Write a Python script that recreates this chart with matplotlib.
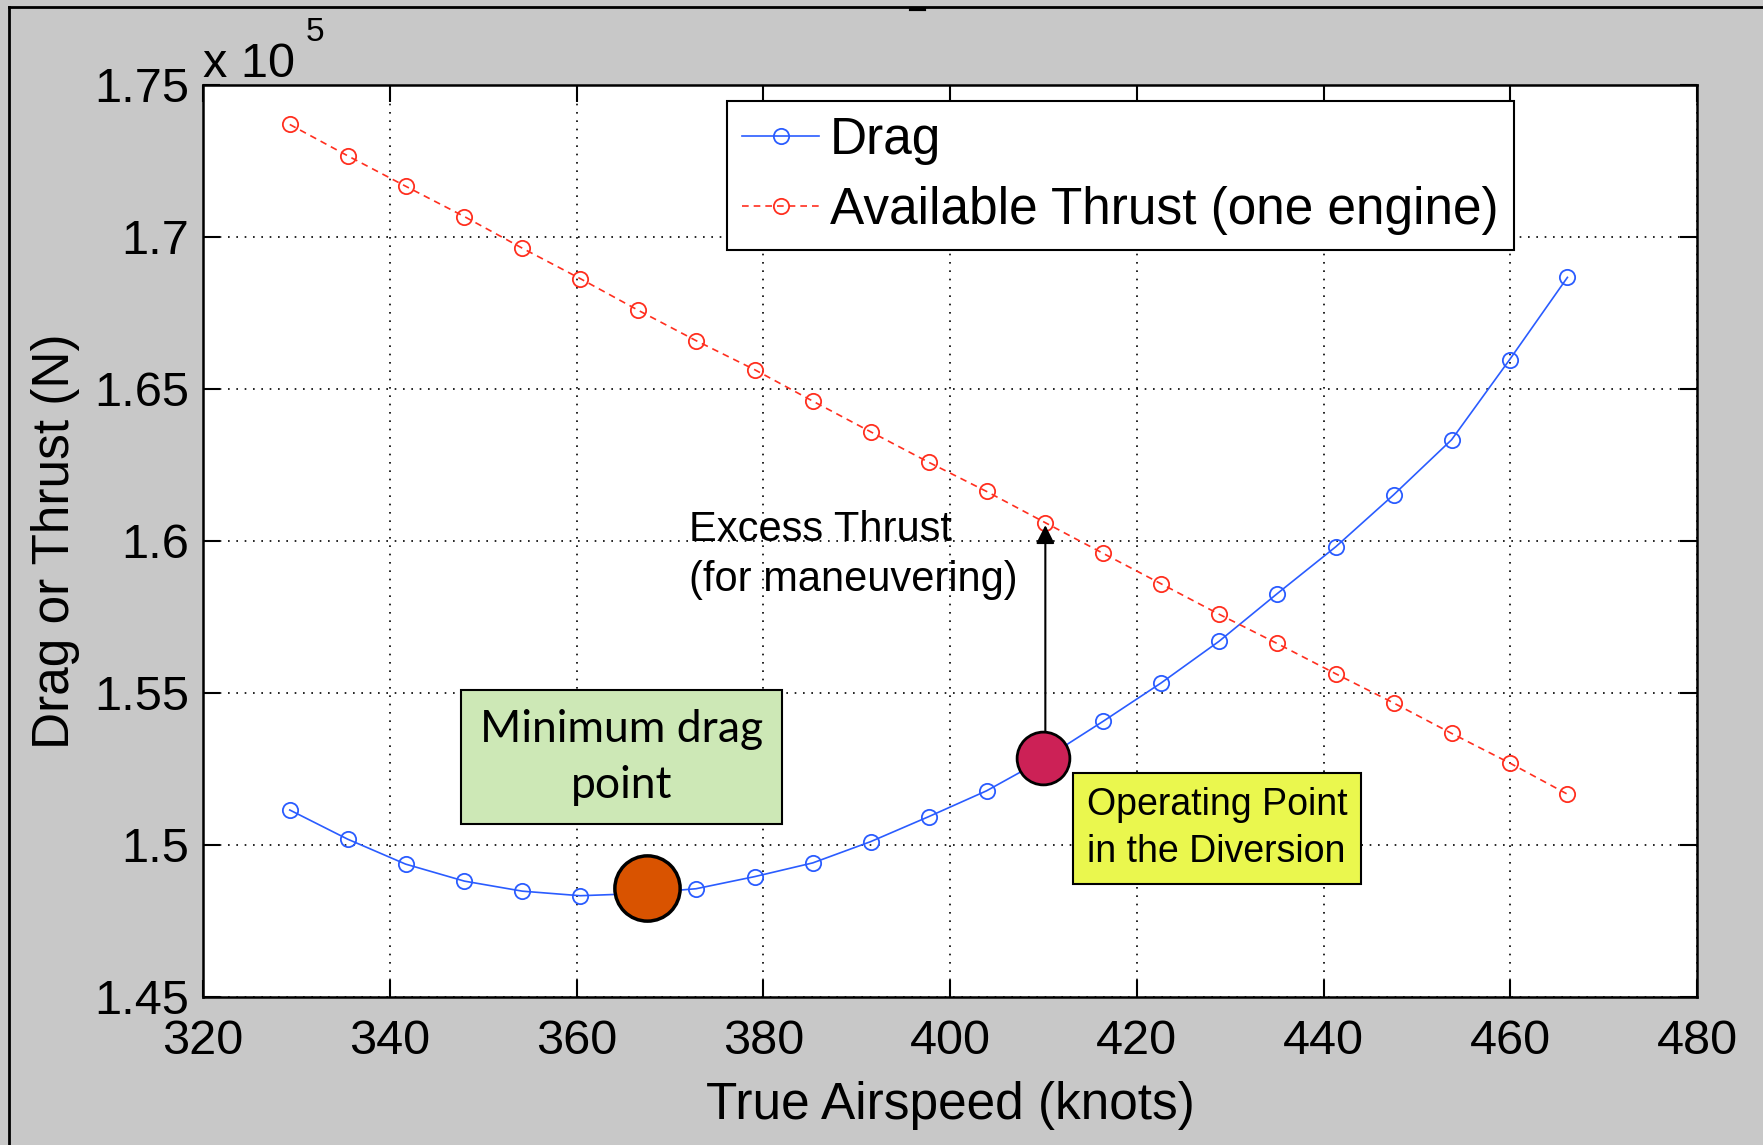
import matplotlib.pyplot as plt
from matplotlib.lines import Line2D

# true airspeed (knots)
speed = [329.3, 335.5, 341.7, 348.0, 354.2, 360.4, 366.6, 372.8, 379.1, 385.3,
         391.5, 397.7, 403.9, 410.2, 416.4, 422.6, 428.8, 435.0, 441.3, 447.5,
         453.7, 459.9, 466.1]
# forces in units of 1e5 N
drag = [1.5115, 1.5019, 1.4937, 1.4881, 1.4848, 1.4833, 1.4840, 1.4856, 1.4896, 1.4941,
        1.5011, 1.5093, 1.5178, 1.5285, 1.5407, 1.5533, 1.5670, 1.5826, 1.5981, 1.6152,
        1.6333, 1.6596, 1.6867]
thrust = [1.7370, 1.7267, 1.7167, 1.7067, 1.6963, 1.6863, 1.6759, 1.6659, 1.6563, 1.6460,
          1.6359, 1.6259, 1.6163, 1.6060, 1.5959, 1.5859, 1.5759, 1.5663, 1.5563, 1.5467,
          1.5367, 1.5270, 1.5167]

min_drag_pt = (367.6, 1.4860)
operating_pt = (409.9, 1.5285)
excess_top = 1.6052
excess_bottom = 1.5367

xticks = [320, 340, 360, 380, 400, 420, 440, 460, 480]
yticks = [1.45, 1.5, 1.55, 1.6, 1.65, 1.7, 1.75]
ytick_labels = ["1.45", "1.5", "1.55", "1.6", "1.65", "1.7", "1.75"]

plt.rcParams["font.family"] = ["Liberation Sans", "DejaVu Sans"]

fig = plt.figure(figsize=(17.63, 11.45), dpi=100, facecolor="#c8c8c8")
ax = fig.add_axes([0.1151, 0.1293, 0.8476, 0.7965])

ax.plot(speed, drag, "-o", color="#2a5cff", lw=1.2, ms=11, mfc="none", mew=1.3,
        label="Drag", zorder=3)
ax.plot(speed, thrust, "--o", color="#ff2f1f", lw=1.2, ms=11, mfc="none", mew=1.3,
        dashes=(4, 3), label="Available Thrust (one engine)", zorder=3)

ax.plot(*min_drag_pt, "o", ms=47, mfc="#d95300", mec="black", mew=2.5, zorder=5)
ax.plot(*operating_pt, "o", ms=38, mfc="#cc2156", mec="black", mew=2.0, zorder=5)

ax.annotate("", xy=(operating_pt[0] + 0.3, excess_top),
            xytext=(operating_pt[0] + 0.3, excess_bottom),
            arrowprops=dict(arrowstyle="-|>", color="black", lw=1.5,
                            mutation_scale=28, shrinkA=0, shrinkB=0), zorder=4)
ax.text(372.0, 1.5954, "Excess Thrust\n(for maneuvering)", fontsize=30,
        ha="left", va="center", linespacing=1.35, zorder=6)

ax.text(364.8, 1.5288, "Minimum drag\npoint", fontsize=32, family=["Lato", "DejaVu Sans"],
        ha="center", va="center", linespacing=1.45, zorder=6,
        bbox=dict(boxstyle="square,pad=0.42", fc="#cde8b6", ec="black", lw=1.5))
ax.text(428.6, 1.5054, "Operating Point\nin the Diversion", fontsize=27,
        ha="center", va="center", multialignment="left", linespacing=1.4, zorder=6,
        bbox=dict(boxstyle="square,pad=0.36", fc="#eaf74e", ec="black", lw=1.5))

ax.set_xlim(320, 480)
ax.set_ylim(1.45, 1.75)
ax.set_xticks(xticks)
ax.set_yticks(yticks)
ax.set_yticklabels(ytick_labels)
ax.grid(True, color="black", linestyle=(0, (1, 4)), lw=1.2)
ax.tick_params(direction="in", length=12, width=1.5, labelsize=35, top=True, right=True)
ax.tick_params(axis="x", pad=16)
ax.tick_params(axis="y", pad=10)
for s in ax.spines.values():
    s.set_linewidth(1.8)

ax.set_xlabel("True Airspeed (knots)", fontsize=37, labelpad=12)
ax.set_ylabel("Drag or Thrust (N)", fontsize=37, labelpad=10)

fig.text(0.1151, 0.9325, "x 10", fontsize=35, ha="left", va="baseline")
fig.text(0.1735, 0.9640, "5", fontsize=24, ha="left", va="baseline")

leg = ax.legend(loc="upper left", bbox_to_anchor=(0.3507, 0.9824), fontsize=37,
                numpoints=1, handlelength=1.5, handletextpad=0.2, labelspacing=0.4,
                borderpad=0.3, borderaxespad=0, fancybox=False, framealpha=1,
                edgecolor="black")
leg.get_frame().set_linewidth(1.5)

# figure frame remnants
fig.add_artist(Line2D([0.005, 0.005], [0, 0.994], color="black", lw=2))
fig.add_artist(Line2D([0.005, 1], [0.994, 0.994], color="black", lw=2))
fig.add_artist(Line2D([0.517, 0.524], [0.992, 0.992], color="black", lw=3))

fig.savefig("out.png", dpi=100, facecolor=fig.get_facecolor())
